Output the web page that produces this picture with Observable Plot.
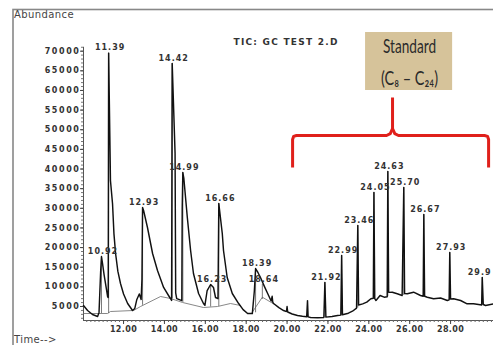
<!DOCTYPE html>
<html><head><meta charset="utf-8">
<script src="https://cdn.jsdelivr.net/npm/d3@7"></script>
<script src="https://cdn.jsdelivr.net/npm/@observablehq/plot@0.6"></script>
<style>
html,body{margin:0;padding:0;background:#fff;overflow:hidden;}
</style></head><body><div id="chart"></div><script>
// ---- data ----
const traceTime = [
10.04,10.24,10.48,10.73,10.80,10.88,10.92,10.97,11.05,11.15,11.22,
11.25,11.27,11.36,11.46,11.53,11.61,11.72,11.85,12.00,12.20,12.44,
12.55,12.65,12.77,12.86,12.90,12.93,12.98,13.17,13.42,13.66,13.96,14.20,14.35,
14.38,14.52,14.55,14.60,14.70,14.85,14.87,14.90,14.95,15.12,15.28,15.42,15.67,15.91,15.98,
16.09,16.26,16.40,16.50,16.62,16.66,16.83,16.89,17.07,17.32,17.63,17.85,18.07,18.30,
18.40,18.46,18.58,18.70,18.90,19.05,19.22,19.27,19.30,19.34,19.60,19.83,19.97,20.00,20.03,
20.25,20.51,20.75,20.96,21.00,21.03,21.15,21.50,21.80,21.85,21.90,22.20,22.47,22.63,22.67,22.71,
23.00,23.20,23.40,23.46,23.50,23.70,23.90,24.10,24.22,24.25,24.29,24.35,24.55,24.75,24.90,24.93,24.97,
25.15,25.39,25.63,25.71,25.75,25.88,26.19,26.53,26.66,26.69,26.73,26.86,27.17,27.51,27.84,27.93,27.96,28.00,
28.15,28.49,28.81,29.12,29.37,29.52,29.55,29.60,29.71,30.10];
const traceAbund = [
5255,3980,2960,2450,3500,14000,17730,16000,13000,9800,7500,
7300,69510,37000,31200,23500,18500,14000,10850,8200,5760,3980,
4500,6800,8200,6800,12000,30200,29440,25110,18490,14170,9840,7800,6530,
66860,44000,8500,7000,6800,6500,30000,39110,37590,27660,19260,13400,8310,5760,5300,
9070,10600,9840,7290,7000,31220,23590,19260,12380,8310,5760,4200,3220,3200,
9000,14670,13600,12380,10000,8300,6400,7600,6100,5760,4700,3980,3700,5000,3600,
3100,2710,2500,2400,6500,2350,2200,2150,2200,11110,2300,2450,2710,2800,17980,2900,
3300,3800,4600,25620,5400,5680,6100,6960,7100,34020,7000,6530,7800,7370,7500,39370,8600,
8640,8230,7800,35300,8300,8230,8640,7800,7600,28420,7600,7370,6960,7150,6530,6700,18750,6900,
6960,6530,5680,5680,5500,5400,12380,5500,5250,5680];

// integration baseline (two segments)
const baseTime  = [10.04,11.22,11.36,12.49,12.83,13.81,14.30,14.89,15.91,16.60,17.23,17.72, 18.30,18.79,19.40];
const baseAbund = [3218,3218,3727,3982,5000,7546,7037,6018,4745,5000,5764,5255, 3550,7370,5500];
const baseSeg   = [1,1,1,1,1,1,1,1,1,1,1,1, 2,2,2];

// labelled peaks
const peakLabel = ["10.92","11.39","12.93","14.42","14.99","16.23","16.66","18.39","18.64",
                   "21.92","22.99","23.46","24.05","24.63","25.70","26.67","27.93","29.9"];
const peakTime  = [10.92,11.27,12.93,14.38,14.90,16.26,16.66,18.46,18.79,
                   21.85,22.67,23.46,24.25,24.93,25.71,26.69,27.96,29.55];
const peakAbund = [17730,69510,30200,66860,39110,10600,31220,14670,10600,
                   11110,17980,25620,34020,39370,35300,28420,18750,12380];
const peakBase  = [3218,3218,5300,7037,6018,4870,5020,3400,6800,
                   2200,2800,4600,6960,7500,7800,7600,6700,5400];

// axes
const xTicks = [12,14,16,18,20,22,24,26,28];
const yTicks = [5000,10000,15000,20000,25000,30000,35000,40000,45000,50000,55000,60000,65000,70000];
const xMinor = d3.range(51,151).map(i => i/5);
const yMinor = d3.range(2,72).map(i => i*1000);
const xDomain = [10.04, 30.10];
const yDomain = [1436, 80611];
const yAxisTop = 71000;

// annotation: bracket over the standard peaks and the label box
const bracketTime  = [20.27,20.27,20.32,20.46,24.87,25.05,25.16,25.16, 25.16,25.27,25.45,29.66,29.81,29.86,29.86];
const bracketAbund = [40387,47515,48300,48534,48534,49000,50316,58208, 50316,49000,48534,48534,48300,47515,40387];
const bracketSide  = ["L","L","L","L","L","L","L","L","R","R","R","R","R","R","R"];
const boxTime  = [23.84, 28.10];
const boxAbund = [59990, 74755];
const standardText  = ["Standard", "(C\u2088 \u2013 C\u2082\u2084)"];
const standardTime  = [25.99, 25.99];
const standardAbund = [71190, 63045];
const titleText = "TIC: GC TEST 2.D";
const yTitle = "Abundance";
const xTitle = "Time-->";

const idx = n => d3.range(n);

const plot = Plot.plot({
  width: 493, height: 345,
  marginLeft: 83, marginRight: 0, marginTop: 9, marginBottom: 25,
  x: {domain: xDomain},
  y: {domain: yDomain},
  style: {background: "white", color: "#333", fontFamily: "DejaVu Sans"},
  marks: [
    Plot.frame({insetLeft: -70.5, insetTop: 0, insetRight: -10, insetBottom: -40, stroke: "#888", strokeWidth: 1.6}),
    // axes
    Plot.ruleY([yDomain[0]], {stroke: "#555", strokeWidth: 1}),
    Plot.ruleX([xDomain[0]], {y1: yDomain[0], y2: yAxisTop, stroke: "#555", strokeWidth: 1}),
    Plot.axisX(xMinor, {tickSize: 2, tickFormat: () => "", stroke: "#666"}),
    Plot.axisX(xTicks, {tickSize: 4, tickPadding: 2, tickFormat: d => d.toFixed(2), fontSize: 8, fontWeight: "bold", label: null, stroke: "#444"}),
    Plot.axisY(yMinor, {tickSize: 2, tickFormat: () => "", stroke: "#777"}),
    Plot.axisY(yTicks, {tickSize: 3, tickPadding: 0, tickFormat: d => String(d), fontSize: 8, fontWeight: "bold", label: null, stroke: "#444"}),
    // integration baseline and drop lines
    Plot.line(idx(baseTime.length), {x: baseTime, y: baseAbund, z: baseSeg, stroke: "#6a6a6a", strokeWidth: 0.8}),
    Plot.ruleX(idx(peakTime.length), {x: peakTime, y1: peakBase, y2: peakAbund, stroke: "#555", strokeWidth: 0.8}),
    // chromatogram
    Plot.line(idx(traceTime.length), {x: traceTime, y: traceAbund, stroke: "#111", strokeWidth: 1.45, strokeLinejoin: "round"}),
    // peak labels
    Plot.text(idx(peakLabel.length), {x: peakTime, y: peakAbund, text: peakLabel, dx: 1.5, dy: -5.5,
      fontSize: 8, fontWeight: "bold", fill: "#333"}),
    // title and corner labels
    Plot.text([titleText], {frameAnchor: "top-left", text: d => d, dx: 150, dy: 29, textAnchor: "start", lineAnchor: "top",
      fontSize: 9, fontWeight: "bold", fill: "#333"}),
    Plot.text([yTitle], {frameAnchor: "top-left", text: d => d, dx: -69.5, dy: 1, textAnchor: "start", lineAnchor: "top",
      fontSize: 10, fill: "#444"}),
    Plot.text([xTitle], {frameAnchor: "bottom-left", text: d => d, dx: -69.5, dy: 15.5, textAnchor: "start", lineAnchor: "top",
      fontSize: 10, fill: "#444"}),
    // annotation
    Plot.rect([0], {x1: boxTime[0], x2: boxTime[1], y1: boxAbund[0], y2: boxAbund[1], fill: "#d6c39a"}),
    Plot.text(idx(standardText.length), {x: standardTime, y: standardAbund, text: standardText,
      fontSize: 20, fontFamily: "Lato, 'DejaVu Sans', sans-serif", fill: "#2a2a2a"}),
    Plot.line(idx(bracketTime.length), {x: bracketTime, y: bracketAbund, z: bracketSide, stroke: "#e0201b",
      strokeWidth: 3, strokeLinejoin: "round", strokeLinecap: "butt"})
  ]
});
document.getElementById("chart").appendChild(plot);

// text styling by content
const ySet = new Set(yTicks.map(String));
const xSet = new Set(xTicks.map(d => d.toFixed(2)));
const pSet = new Set(peakLabel);
const W = 493;
d3.select(plot).selectAll("text").each(function() {
  const s = this.textContent;
  const t = d3.select(this);
  if (ySet.has(s)) t.style("letter-spacing", "1.6px");
  else if (xSet.has(s)) t.style("letter-spacing", "0.4px");
  else if (pSet.has(s)) {
    t.style("letter-spacing", "1px");
    const b = this.getBoundingClientRect();
    if (b.right > W - 1) t.attr("dx", (+(t.attr("dx") || 0)) - (b.right - W + 1.5));
  }
  else if (s === titleText) t.style("letter-spacing", "1.25px");
  else if (s === yTitle || s === xTitle) t.style("letter-spacing", "0.4px");
  else if (s === standardText[0]) t.attr("textLength", 53).attr("lengthAdjust", "spacingAndGlyphs");
  else if (s === standardText[1]) t.attr("textLength", 57).attr("lengthAdjust", "spacingAndGlyphs");
});
</script></body></html>
